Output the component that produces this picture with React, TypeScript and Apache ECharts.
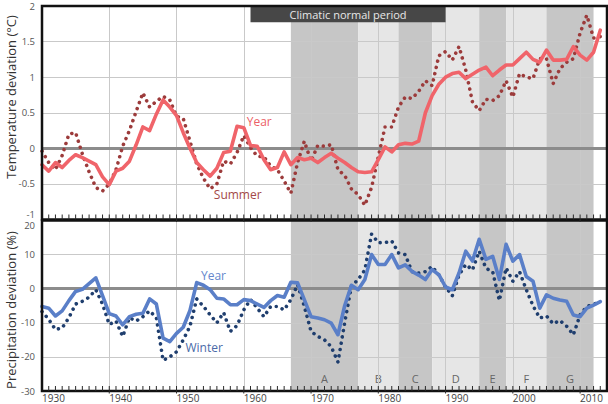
import { useEffect, useRef } from "react";
import * as echarts from "echarts";

// Yearly series, one value per year starting at FIRST_YEAR
const FIRST_YEAR = 1930;

// Temperature deviation (°C)
const tempYear = [
  -0.23, -0.32, -0.2, -0.27, -0.17, -0.09, -0.13, -0.18, -0.23, -0.4,
  -0.51, -0.32, -0.28, -0.18, 0.05, 0.3, 0.25, 0.48, 0.68, 0.58,
  0.46, 0.22, 0.0, -0.2, -0.3, -0.39, -0.28, -0.06, -0.04, 0.31,
  0.29, 0.04, 0.03, -0.16, -0.3, -0.27, -0.05, -0.23, -0.13, -0.16,
  -0.14, -0.2, -0.13, -0.07, -0.14, -0.2, -0.27, -0.33, -0.34, -0.33,
  -0.16, 0.02, -0.05, 0.05, 0.07, 0.06, 0.1, 0.5, 0.74, 0.9,
  1.0, 1.05, 1.07, 0.98, 1.04, 1.1, 1.14, 1.02, 1.1, 1.17,
  1.17, 1.26, 1.35, 1.25, 1.21, 1.38, 1.24, 1.24, 1.25, 1.43,
  1.31, 1.24, 1.35, 1.66,
];
const tempSummer = [
  -0.04, -0.2, -0.3, -0.1, 0.2, 0.22, -0.08, -0.33, -0.55, -0.6,
  -0.5, -0.3, 0.03, 0.25, 0.52, 0.78, 0.58, 0.66, 0.73, 0.68,
  0.45, 0.42, 0.1, -0.22, -0.42, -0.57, -0.5, -0.18, -0.22, -0.06,
  0.18, 0.01, -0.11, -0.12, -0.25, -0.3, -0.46, -0.63, -0.2, 0.1,
  -0.18, 0.04, 0.03, 0.05, -0.3, -0.38, -0.57, -0.65, -0.8, -0.55,
  -0.12, 0.3, 0.3, 0.58, 0.72, 0.7, 0.8, 0.95, 0.88, 1.3,
  1.36, 1.24, 1.43, 1.1, 0.65, 0.53, 0.69, 0.67, 0.74, 0.95,
  0.72, 1.05, 1.0, 0.98, 1.26, 1.26, 0.91, 1.12, 1.21, 1.26,
  1.62, 1.87, 1.55, 1.57,
];

// Precipitation deviation (%)
const precYear = [
  -5.2, -5.7, -8.0, -6.5, -3.5, -0.8, -0.2, 1.5, 3.2, -2.0,
  -7.3, -8.0, -10.6, -8.2, -7.5, -7.2, -3.0, -4.5, -14.5, -15.5,
  -13.1, -11.3, -6.4, 1.8, 1.0, -0.3, -2.8, -3.0, -4.7, -4.7,
  -3.2, -3.5, -4.5, -5.5, -3.5, -2.0, -2.5, 1.9, 1.7, -3.2,
  -8.2, -8.6, -9.1, -10.1, -13.5, -5.0, 1.0, -0.3, 2.7, 10.0,
  7.1, 7.1, 10.0, 6.1, 7.0, 5.1, 4.0, 2.7, 5.6, 4.1,
  0.5, -0.3, 4.6, 11.0, 8.1, 14.5, 8.6, 9.5, 2.7, 13.0,
  8.1, 10.0, 3.6, 2.2, -5.7, -1.8, -2.8, -3.3, -3.7, -7.7,
  -8.2, -5.7, -4.8, -3.8,
];
const precWinter = [
  -6.7, -9.0, -12.0, -11.5, -8.5, -4.5, -3.7, -2.5, -0.3, -4.5,
  -10.5, -9.5, -14.0, -8.5, -9.5, -8.2, -6.5, -8.5, -21.0, -20.0,
  -18.5, -15.0, -11.0, -3.0, -5.2, -7.7, -10.0, -7.0, -12.5, -10.8,
  -6.2, -3.2, -5.7, -8.2, -5.2, -5.2, -6.2, -3.2, 1.2, -5.2,
  -12.5, -14.0, -15.0, -17.0, -21.5, -10.0, 0.7, 2.7, 5.5, 16.0,
  13.5, 13.5, 14.0, 10.5, 10.0, 5.0, 4.6, 5.0, 6.5, 4.0,
  0.5, -2.1, 4.0, 7.1, 5.5, 11.0, 6.0, 5.0, -3.5, 6.1,
  2.2, 5.0, -0.3, -5.0, -8.6, -8.0, -10.3, -9.3, -11.0, -13.5,
  -7.7, -5.2, -4.6, -3.8,
];

// Axis ranges and tick labels
const X_MIN = 1930;
const X_MAX = 2014;
const decadeLabels = [1930, 1940, 1950, 1960, 1970, 1980, 1990, 2000, 2010];
const TEMP_MIN = -1;
const TEMP_MAX = 2;
const PREC_MIN = -30;
const PREC_MAX = 20;

// Shaded sub-periods
const bandNames = ["A", "B", "C", "D", "E", "F", "G"];
const bandStarts = [1967, 1977, 1983, 1988, 1995, 1999, 2005];
const bandEnds = [1977, 1983, 1988, 1995, 1999, 2005, 2012];
const bandDark = [true, false, true, false, true, false, true];

// Climatic normal period
const normalStart = 1961;
const normalEnd = 1990;

const FONT = '"Open Sans", "Noto Sans", sans-serif';
const DARK_BAND = "#c6c6c6";
const LIGHT_BAND = "#e6e6e6";
const GRID_LINE = "#c9c9c9";

const toPairs = (values: number[]) =>
  values.map((v, i) => [FIRST_YEAR + i, v]);

const yearTicks: number[] = [];
for (let y = X_MIN + 1; y < X_MAX; y++) yearTicks.push(y);

function bandAreas(withLabels: boolean) {
  return bandNames.map((name, i) => [
    {
      name: withLabels ? name : "",
      xAxis: bandStarts[i],
      itemStyle: { color: bandDark[i] ? DARK_BAND : LIGHT_BAND },
    },
    { xAxis: bandEnds[i] },
  ]);
}

// shaded periods plus the decade grid lines drawn over them
function backdrop(gi: number, withLabels: boolean) {
  return {
    type: "line",
    xAxisIndex: gi,
    yAxisIndex: gi,
    data: [],
    z: 1,
    silent: true,
    markArea: {
      z: 1,
      silent: true,
      label: withLabels
        ? {
            show: true,
            position: "insideBottom",
            distance: 7,
            color: "#666",
            fontSize: 11,
            fontFamily: FONT,
          }
        : { show: false },
      data: bandAreas(withLabels),
    },
    markLine: {
      z: 2,
      silent: true,
      symbol: ["none", "none"],
      label: { show: false },
      lineStyle: { color: GRID_LINE, width: 1, type: "solid" },
      data: decadeLabels.slice(1).map((d) => ({ xAxis: d })),
    },
  };
}

// yearly tick marks standing on the bottom edge of a panel
function yearTickSeries(gi: number, yMin: number) {
  return {
    type: "custom",
    xAxisIndex: gi,
    yAxisIndex: gi,
    data: yearTicks.map((y) => [y, yMin]),
    encode: { x: 0, y: 1 },
    z: 11,
    silent: true,
    clip: false,
    renderItem: (_params: any, api: any) => {
      const year = api.value(0);
      const p = api.coord([year, yMin]);
      const major = year % 10 === 0;
      return {
        type: "line",
        shape: { x1: p[0], y1: p[1] + (major ? 2.5 : 0), x2: p[0], y2: p[1] - 5 },
        style: { stroke: "#2a2a2a", lineWidth: 1 },
      };
    },
  };
}

function buildOption() {
  const xAxisBase = {
    type: "value",
    position: "bottom",
    min: X_MIN,
    max: X_MAX,
    interval: 10,
    z: 3,
    axisLine: { show: false, onZero: false },
    splitLine: { show: false },
    axisTick: { show: false },
  };

  const yLabel = { color: "#555", fontSize: 9.5, margin: 7, fontFamily: FONT };

  const gridBase = {
    left: 42,
    right: 1,
    show: true,
    borderColor: "#111",
    borderWidth: 2.5,
    backgroundColor: "transparent",
    z: 10,
  };

  const textLabel = (color: string) => ({
    show: true,
    position: "inside",
    formatter: (p: any) => p.name,
    color,
    fontSize: 12,
    fontFamily: FONT,
  });

  const zeroLine = (gi: number) => ({
    type: "line",
    xAxisIndex: gi,
    yAxisIndex: gi,
    data: [],
    z: 4,
    silent: true,
    markLine: {
      z: 4,
      silent: true,
      symbol: ["none", "none"],
      label: { show: false },
      lineStyle: { color: "#8c8c8c", width: 3, type: "solid" },
      data: [{ yAxis: 0 }],
    },
  });

  return {
    animation: false,
    backgroundColor: "#ffffff",
    textStyle: { fontFamily: FONT },
    grid: [
      { ...gridBase, top: 6, height: 213.5 },
      { ...gridBase, top: 220.5, height: 170.5 },
    ],
    xAxis: [
      { ...xAxisBase, gridIndex: 0, axisLabel: { show: false } },
      {
        ...xAxisBase,
        gridIndex: 1,
        axisLabel: {
          show: true,
          align: "left",
          margin: 2,
          color: "#444",
          fontSize: 10,
          fontFamily: FONT,
          customValues: decadeLabels,
          formatter: (v: number) => String(v),
        },
      },
    ],
    yAxis: [
      {
        gridIndex: 0,
        type: "value",
        min: TEMP_MIN,
        max: TEMP_MAX,
        interval: 0.5,
        z: 3,
        axisLine: { show: false },
        axisTick: { show: false },
        axisLabel: { ...yLabel, verticalAlignMinLabel: "bottom" },
        splitLine: { show: true, lineStyle: { color: GRID_LINE, width: 1 } },
      },
      {
        gridIndex: 1,
        type: "value",
        min: PREC_MIN,
        max: PREC_MAX,
        interval: 10,
        z: 3,
        axisLine: { show: false },
        axisTick: { show: false },
        axisLabel: { ...yLabel, verticalAlignMaxLabel: "top" },
        splitLine: { show: true, lineStyle: { color: GRID_LINE, width: 1 } },
      },
    ],
    series: [
      backdrop(0, false),
      backdrop(1, true),
      zeroLine(0),
      zeroLine(1),
      yearTickSeries(0, TEMP_MIN),
      yearTickSeries(1, PREC_MIN),
      // climatic normal period banner
      {
        type: "line",
        xAxisIndex: 0,
        yAxisIndex: 0,
        data: [],
        z: 7,
        silent: true,
        markArea: {
          z: 7,
          silent: true,
          itemStyle: { color: "#474747" },
          label: {
            show: true,
            position: "inside",
            color: "#e8e8e8",
            fontSize: 11,
            fontFamily: FONT,
          },
          data: [
            [
              { name: "Climatic normal period", xAxis: normalStart, yAxis: 1.77 },
              { xAxis: normalEnd, yAxis: TEMP_MAX },
            ],
          ],
        },
      },
      {
        name: "Summer",
        type: "line",
        xAxisIndex: 0,
        yAxisIndex: 0,
        data: toPairs(tempSummer),
        symbol: "none",
        z: 5,
        lineStyle: { color: "#9c3b3b", width: 3.6, type: [0.01, 6.4], cap: "round" },
        markPoint: {
          z: 6,
          symbol: "circle",
          symbolSize: 1,
          itemStyle: { color: "transparent" },
          label: textLabel("#a34848"),
          data: [{ name: "Summer", coord: [1959.1, -0.65] }],
        },
      },
      {
        name: "Year",
        type: "line",
        xAxisIndex: 0,
        yAxisIndex: 0,
        data: toPairs(tempYear),
        symbol: "none",
        z: 5,
        lineStyle: { color: "#f0646a", width: 3.6, cap: "round", join: "round" },
        markPoint: {
          z: 6,
          symbol: "circle",
          symbolSize: 1,
          itemStyle: { color: "transparent" },
          label: textLabel("#ec5f67"),
          data: [{ name: "Year", coord: [1962.3, 0.38] }],
        },
      },
      {
        name: "Winter",
        type: "line",
        xAxisIndex: 1,
        yAxisIndex: 1,
        data: toPairs(precWinter),
        symbol: "none",
        z: 5,
        lineStyle: { color: "#1f3e6e", width: 3.6, type: [0.01, 6.4], cap: "round" },
        markPoint: {
          z: 6,
          symbol: "circle",
          symbolSize: 1,
          itemStyle: { color: "transparent" },
          label: textLabel("#4a6aa8"),
          data: [{ name: "Winter", coord: [1954.1, -17.1] }],
        },
      },
      {
        name: "Precipitation year",
        type: "line",
        xAxisIndex: 1,
        yAxisIndex: 1,
        data: toPairs(precYear),
        symbol: "none",
        z: 5,
        lineStyle: { color: "#5a7fc8", width: 3.6, cap: "round", join: "round" },
        markPoint: {
          z: 6,
          symbol: "circle",
          symbolSize: 1,
          itemStyle: { color: "transparent" },
          label: textLabel("#6386cc"),
          data: [{ name: "Year", coord: [1955.5, 3.9] }],
        },
      },
    ],
    graphic: [
      {
        type: "text",
        x: 11,
        y: 97,
        rotation: Math.PI / 2,
        style: {
          text: "Temperature deviation (°C)",
          fill: "#333",
          font: `13px ${FONT}`,
          align: "center",
          verticalAlign: "middle",
        },
      },
      {
        type: "text",
        x: 11,
        y: 310,
        rotation: Math.PI / 2,
        style: {
          text: "Precipitation deviation (%)",
          fill: "#333",
          font: `13px ${FONT}`,
          align: "center",
          verticalAlign: "middle",
        },
      },
    ],
  };
}

export default function App() {
  const ref = useRef<HTMLDivElement>(null);

  useEffect(() => {
    if (!ref.current) return;
    const chart = echarts.init(ref.current, undefined, { renderer: "svg" });
    chart.setOption(buildOption() as any);
    return () => chart.dispose();
  }, []);

  return (
    <div
      ref={ref}
      style={{ position: "fixed", left: 0, top: 0, width: 608, height: 404 }}
    />
  );
}
